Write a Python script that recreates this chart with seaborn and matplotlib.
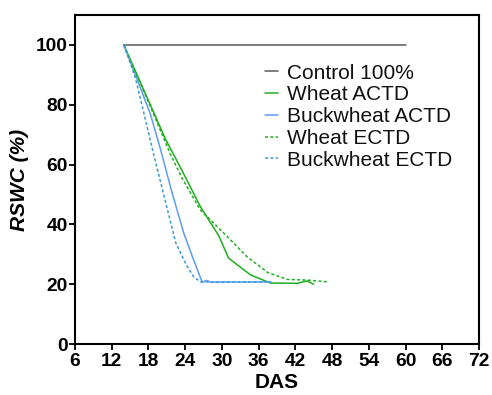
import numpy as np
import pandas as pd
import matplotlib
matplotlib.use('Agg')
import matplotlib.pyplot as plt
import seaborn as sns

# data (DAS vs RSWC %)
control_das = [14, 60]
control_rswc = [100, 100]

wheat_actd_das = [14, 18, 20.8, 23.3, 26.5, 29.5, 31.1, 34.7, 37.9, 42.3, 43.9, 45]
wheat_actd_rswc = [100, 81.5, 68.5, 58.8, 45.9, 36.2, 28.7, 23.1, 20.4, 20.3, 21.1, 20]

buck_actd_das = [14, 16, 18.4, 20, 21.9, 23.8, 25.4, 26.8, 27.5, 28.2, 30, 34, 38]
buck_actd_rswc = [100, 89.5, 76.5, 65, 50.4, 37, 28.1, 20.6, 21.3, 20.7, 20.8, 20.7, 20.8]

wheat_ectd_das = [14, 18, 21.6, 23.5, 26.5, 30.9, 34.1, 37.5, 40.7, 43.9, 47.2]
wheat_ectd_rswc = [100, 81, 63.5, 55.5, 44.8, 35.9, 29.2, 23.9, 21.6, 21.4, 20.8]

buck_ectd_das = [14, 15.9, 17.3, 18.8, 20.8, 22.5, 24.2, 25.4, 26.5, 30, 34, 38]
buck_ectd_rswc = [100, 88.9, 77, 64, 47.6, 33.7, 26.5, 22.5, 20.8, 20.6, 20.8, 20.7]

series = [
    ('Control 100%', control_das, control_rswc),
    ('Wheat ACTD', wheat_actd_das, wheat_actd_rswc),
    ('Buckwheat ACTD', buck_actd_das, buck_actd_rswc),
    ('Wheat ECTD', wheat_ectd_das, wheat_ectd_rswc),
    ('Buckwheat ECTD', buck_ectd_das, buck_ectd_rswc),
]
df = pd.concat([pd.DataFrame({'DAS': d, 'RSWC': r, 'group': name}) for name, d, r in series],
               ignore_index=True)

palette = {'Control 100%': '#5a5a5a', 'Wheat ACTD': '#1fae1f', 'Buckwheat ACTD': '#5e9cf2',
           'Wheat ECTD': '#1fae1f', 'Buckwheat ECTD': '#3a9bd2'}
dashes = {'Control 100%': '', 'Wheat ACTD': '', 'Buckwheat ACTD': '',
          'Wheat ECTD': (2, 1.5), 'Buckwheat ECTD': (2, 1.5)}

sns.set_style('ticks')
plt.rcParams['font.family'] = ['Liberation Sans', 'DejaVu Sans']

fig = plt.figure(figsize=(4.92, 3.95), dpi=100)
ax = fig.add_axes([0.152, 0.129, 0.822, 0.833])

sns.lineplot(data=df, x='DAS', y='RSWC', hue='group', style='group',
             palette=palette, dashes=dashes, linewidth=1.1, sort=False,
             estimator=None, ax=ax)

ax.set_xlim(6, 72)
ax.set_ylim(0, 110)
ax.set_xticks(np.arange(6, 73, 6))
ax.set_yticks(np.arange(0, 101, 20))
for lbl in ax.get_xticklabels() + ax.get_yticklabels():
    lbl.set_fontweight('bold')
    lbl.set_fontsize(13.8)
ax.tick_params(axis='both', direction='out', length=4, width=1.3, pad=1, colors='black')
ax.tick_params(axis='x', pad=2.5)
for s in ax.spines.values():
    s.set_linewidth(1.5)
    s.set_color('black')

ax.set_xlabel('DAS', fontsize=15, fontweight='bold', labelpad=2, color='black')
ax.set_ylabel('RSWC (%)', fontsize=15, fontweight='bold', style='italic', labelpad=5,
              color='black')

leg = ax.legend(loc='upper left', bbox_to_anchor=(0.47, 0.852), frameon=False,
                fontsize=15, handlelength=0.63, handletextpad=0.43, labelspacing=0.13,
                borderaxespad=0, borderpad=0)
for line in leg.get_lines():
    line.set_linewidth(1.1)
for t in leg.get_texts():
    t.set_color('#111111')

fig.savefig('out.png', dpi=100)
